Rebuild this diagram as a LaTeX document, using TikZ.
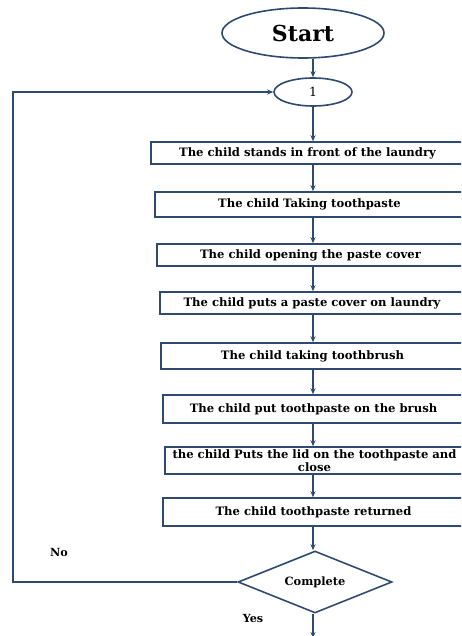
\documentclass[tikz,border=0pt]{standalone}
\usepackage{fontspec}
\setmainfont{DejaVu Serif}
\usetikzlibrary{shapes.geometric,arrows.meta}
\definecolor{navy}{RGB}{47,74,112}
\tikzset{
  flow/.style={draw=navy, line width=1.6pt},
  arr/.style={flow, -{Stealth[length=6pt,width=5pt]}},
  stepbox/.style={draw=navy, line width=1.5pt, rectangle, inner sep=0pt,
    font=\bfseries\fontsize{11.6}{12.6}\selectfont, align=center},
  lbl/.style={font=\bfseries\fontsize{11.2}{12}\selectfont, inner sep=0pt}
}
% a box with left edge L, top T, bottom B (right edge runs past the frame)
\newcommand{\flowbox}[5]{%
  \node[stepbox, minimum width={(464-#2)*1pt}, minimum height={(#4-#3)*1pt}]
    (#1) at ({(#2+464)/2},{(#3+#4)/2}) {#5};}
\begin{document}
\begin{tikzpicture}[x=1pt,y=-1pt]
\useasboundingbox (0,0) rectangle (461,636);
\clip (0,0) rectangle (461,636);
\fill[white] (0,0) rectangle (461,636);

\node[ellipse, draw=navy, line width=1.6pt, minimum width=162pt, minimum height=50pt,
  inner sep=0pt, font=\bfseries\fontsize{22}{24}\selectfont] (start) at (303,33) {Start};
\node[ellipse, draw=navy, line width=1.6pt, minimum width=78pt, minimum height=28pt,
  inner sep=0pt, font=\fontsize{12.5}{14}\selectfont] (n1) at (313,92) {1};

\flowbox{b1}{151}{142}{164}{The child stands in front of the laundry}
\flowbox{b2}{155}{192}{217}{The child Taking toothpaste}
\flowbox{b3}{157}{244}{266}{The child opening the paste cover}
\flowbox{b4}{160}{292}{314}{The child puts a paste cover on laundry}
\flowbox{b5}{161}{343}{369}{The child taking toothbrush}
\flowbox{b6}{163}{395}{423}{The child put toothpaste on the brush}
\flowbox{b7}{165}{447}{474}{the child Puts the lid on the toothpaste and\\close}
\flowbox{b8}{163}{498}{526}{The child toothpaste returned}

\node[diamond, shape aspect=2.5, draw=navy, line width=1.6pt, minimum width=154pt,
  minimum height=62pt, inner sep=0pt, font=\bfseries\fontsize{11.4}{12}\selectfont]
  (dec) at (315,582) {Complete};

\coordinate (out) at (313,638);
\coordinate (cornerA) at (13,582);
\coordinate (cornerB) at (13,92);

% main chain
\draw[arr] (start.south -| n1) -- (n1.north);
\draw[arr] (n1.south) -- (b1.north -| n1);
\foreach \a/\b in {b1/b2,b2/b3,b3/b4,b4/b5,b5/b6,b6/b7,b7/b8}
  \draw[arr] (\a.south -| n1) -- (\b.north -| n1);
\draw[arr] (b8.south -| n1) -- (dec.north -| n1);
\draw[arr] (dec.south -| n1) -- (out);

% return loop
\draw[arr] (dec.west) -- (cornerA) -- (cornerB) -- (n1.west);

\node[lbl] (no) at (59,552) {No};
\node[lbl] (yes) at (253,618) {Yes};
\end{tikzpicture}
\end{document}
